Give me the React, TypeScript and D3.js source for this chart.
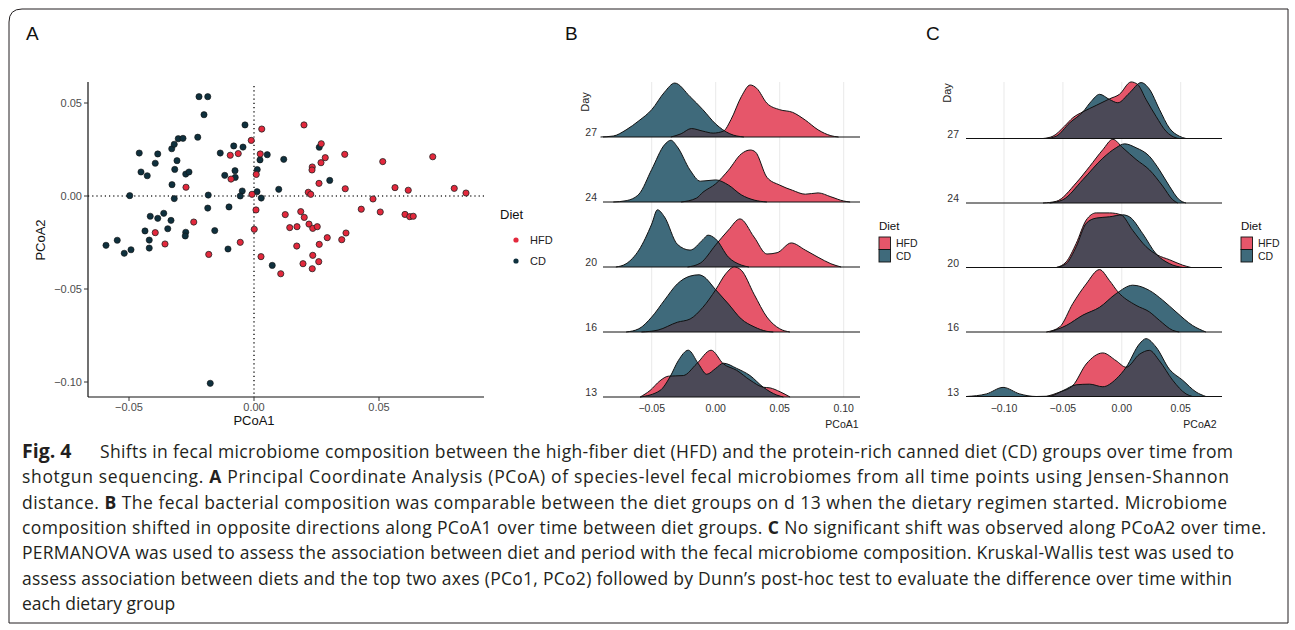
import React from 'react';
import * as d3 from 'd3';

type Pt = [number, number];

// ---------- Panel A: PCoA scores per sample ----------
const hfdPC1 = [0.0031, -0.0272, -0.0095, -0.0063, -0.0011, 0.0025, -0.0092, 0.0009, -0.0008, 0.0008, -0.0241, -0.0395, 0.0001, -0.0356, -0.0055,
  -0.0181, 0.0028, 0.02, 0.0269, 0.0285, 0.0268, 0.0233, 0.0232, 0.0363, 0.0515, 0.0715, 0.026, 0.0217, 0.0227, 0.0365, 0.0564, 0.0617, 0.0801, 0.0848,
  0.0476, 0.0125, 0.0187, 0.0201, 0.0429, 0.0505, 0.0604, 0.0623, 0.0637, 0.0143, 0.0172, 0.022, 0.0235, 0.0253, 0.0293, 0.0261, 0.0171, 0.0351, 0.0368,
  0.0235, 0.0196, 0.0259, 0.0233, 0.0107];
const hfdPC2 = [0.036, 0.0047, 0.0219, 0.0228, 0.0299, 0.0226, 0.0091, 0.0116, 0.0009, -0.0075, -0.014, -0.0197, -0.0179, -0.0258, -0.0249,
  -0.0314, -0.0326, 0.0382, 0.0281, 0.0206, 0.0179, 0.0156, 0.014, 0.0224, 0.0185, 0.0211, 0.0068, 0.002, 0.0009, 0.0039, 0.0045, 0.0031, 0.0041, 0.0016,
  -0.0016, -0.01, -0.0084, -0.0115, -0.0071, -0.0086, -0.0099, -0.0111, -0.0109, -0.017, -0.0165, -0.0151, -0.0174, -0.0165, -0.0224, -0.026, -0.0269, -0.0235, -0.0199,
  -0.0319, -0.0364, -0.0353, -0.0391, -0.0418];
const cdPC1 = [-0.022, -0.0185, -0.02, -0.0036, -0.0459, -0.0385, -0.0452, -0.0427, -0.0395, -0.0329, -0.0319, -0.0303, -0.0284, -0.0308, -0.0317,
  -0.0273, -0.026, -0.0328, -0.0319, -0.0225, -0.0135, -0.0081, -0.0044, 0.0053, 0.0024, -0.0076, -0.0117, -0.0075, 0.0013, -0.0047, -0.0055, 0.0012,
  0.0029, -0.0183, -0.0497, -0.0185, -0.01, -0.0415, -0.0385, -0.0361, -0.0332, -0.0436, -0.0345, -0.0273, -0.0275, -0.0157, -0.0419, -0.0547, -0.0592,
  -0.0519, -0.0492, -0.0419, -0.0104, -0.0175, 0.0119, 0.0261, 0.0303, 0.0099, 0.0073];
const cdPC2 = [0.0534, 0.0534, 0.0437, 0.0382, 0.0231, 0.0226, 0.0129, 0.0109, 0.0176, 0.0254, 0.0278, 0.0308, 0.031, 0.019, 0.0143,
  0.0118, 0.0129, 0.0061, -0.0014, 0.0316, 0.0231, 0.0269, 0.0263, 0.0222, 0.0194, 0.0136, 0.0111, 0.01, 0.0142, 0.0027, 0.0, 0.0023,
  -0.0011, 0.0005, 0.0002, -0.0065, -0.0059, -0.0109, -0.012, -0.0093, -0.0131, -0.0188, -0.0176, -0.0195, -0.0215, -0.0186, -0.0237, -0.0238, -0.0265,
  -0.0308, -0.0289, -0.028, -0.0285, -0.1007, 0.0197, 0.0262, 0.0084, 0.0036, -0.0373];
const pc1TicksA = [-0.05, 0, 0.05];
const pc2TicksA = [-0.1, -0.05, 0, 0.05];

// ---------- Ridges: [PCoA value, scaled density] ----------
const days = ['13', '16', '20', '24', '27'];

const b27Hfd: Pt[] = [[-0.035, 0], [-0.027, 0.05], [-0.019, 0.13], [-0.01, 0.09], [-0.002, 0.06], [0.006, 0.09], [0.012, 0.27], [0.02, 0.62], [0.027, 0.8], [0.032, 0.75], [0.04, 0.52], [0.05, 0.42], [0.06, 0.38], [0.07, 0.26], [0.08, 0.11], [0.09, 0.02], [0.096, 0]];
const b27Cd: Pt[] = [[-0.09, 0], [-0.08, 0.015], [-0.07, 0.11], [-0.06, 0.25], [-0.05, 0.42], [-0.04, 0.69], [-0.032, 0.83], [-0.02, 0.62], [-0.01, 0.42], [0, 0.2], [0.011, 0.05], [0.022, 0]];
const b24Hfd: Pt[] = [[-0.027, 0], [-0.015, 0.06], [-0.01, 0.15], [0, 0.28], [0.01, 0.49], [0.02, 0.74], [0.027, 0.8], [0.031, 0.77], [0.04, 0.38], [0.05, 0.26], [0.06, 0.18], [0.07, 0.12], [0.08, 0.14], [0.09, 0.08], [0.1, 0.015], [0.105, 0]];
const b24Cd: Pt[] = [[-0.08, 0], [-0.07, 0.02], [-0.06, 0.12], [-0.05, 0.5], [-0.04, 0.88], [-0.035, 0.95], [-0.03, 0.85], [-0.02, 0.49], [-0.012, 0.32], [0, 0.34], [0.01, 0.26], [0.02, 0.11], [0.03, 0.03], [0.04, 0]];
const b20Hfd: Pt[] = [[-0.022, 0], [-0.012, 0.06], [0, 0.34], [0.01, 0.57], [0.019, 0.74], [0.03, 0.46], [0.04, 0.2], [0.048, 0.22], [0.059, 0.37], [0.07, 0.26], [0.08, 0.15], [0.09, 0.05], [0.098, 0]];
const b20Cd: Pt[] = [[-0.078, 0], [-0.07, 0.05], [-0.06, 0.26], [-0.05, 0.66], [-0.0455, 0.88], [-0.04, 0.77], [-0.03, 0.35], [-0.02, 0.26], [-0.01, 0.42], [-0.006, 0.49], [0, 0.43], [0.01, 0.15], [0.02, 0.03], [0.026, 0]];
const b16Hfd: Pt[] = [[-0.058, 0], [-0.045, 0.03], [-0.03, 0.15], [-0.02, 0.2], [-0.01, 0.38], [0, 0.65], [0.008, 0.9], [0.0145, 1.0], [0.02, 0.95], [0.03, 0.58], [0.04, 0.23], [0.05, 0.05], [0.058, 0]];
const b16Cd: Pt[] = [[-0.07, 0], [-0.06, 0.05], [-0.05, 0.23], [-0.04, 0.49], [-0.03, 0.74], [-0.02, 0.86], [-0.013, 0.88], [-0.01, 0.86], [0, 0.65], [0.01, 0.43], [0.02, 0.2], [0.03, 0.08], [0.04, 0.01], [0.045, 0]];
const b13Hfd: Pt[] = [[-0.059, 0], [-0.0513, 0.1], [-0.0435, 0.25], [-0.037, 0.32], [-0.0253, 0.33], [-0.0149, 0.51], [-0.0036, 0.72], [0.006, 0.51], [0.0164, 0.41], [0.0268, 0.26], [0.0372, 0.15], [0.0424, 0.14], [0.0503, 0.08], [0.0581, 0]];
const b13Cd: Pt[] = [[-0.059, 0], [-0.0435, 0.1], [-0.0357, 0.31], [-0.0292, 0.56], [-0.0214, 0.72], [-0.0135, 0.51], [-0.007, 0.35], [0, 0.44], [0.006, 0.52], [0.0164, 0.44], [0.0268, 0.33], [0.0372, 0.15], [0.0477, 0.03], [0.0529, 0]];

const c27Hfd: Pt[] = [[-0.0669, 0], [-0.0584, 0.036], [-0.0486, 0.19], [-0.0415, 0.32], [-0.033, 0.41], [-0.0217, 0.51], [-0.0104, 0.61], [-0.002, 0.68], [0.0079, 0.87], [0.0135, 0.83], [0.0206, 0.6], [0.0291, 0.34], [0.0376, 0.11], [0.046, 0.01], [0.0488, 0]];
const c27Cd: Pt[] = [[-0.0641, 0], [-0.0556, 0.036], [-0.0443, 0.24], [-0.033, 0.41], [-0.026, 0.57], [-0.0189, 0.68], [-0.0104, 0.6], [-0.0034, 0.55], [0.0065, 0.7], [0.0164, 0.86], [0.0234, 0.76], [0.0319, 0.45], [0.0404, 0.16], [0.0488, 0.036], [0.0545, 0]];
const c24Hfd: Pt[] = [[-0.0669, 0], [-0.0556, 0.026], [-0.0387, 0.31], [-0.0274, 0.56], [-0.0161, 0.82], [-0.0076, 0.98], [0.0008, 0.85], [0.0121, 0.67], [0.0234, 0.51], [0.0347, 0.26], [0.0432, 0.05], [0.0475, 0]];
const c24Cd: Pt[] = [[-0.0613, 0], [-0.05, 0.05], [-0.033, 0.36], [-0.0161, 0.69], [-0.0048, 0.85], [0.0023, 0.91], [0.0121, 0.85], [0.0234, 0.72], [0.0319, 0.51], [0.0404, 0.26], [0.0488, 0.05], [0.0545, 0]];
const c20Hfd: Pt[] = [[-0.0556, 0], [-0.0472, 0.087], [-0.0387, 0.37], [-0.0302, 0.73], [-0.0217, 0.84], [-0.0104, 0.84], [-0.0006, 0.81], [0.0093, 0.57], [0.0206, 0.32], [0.0305, 0.19], [0.0404, 0.12], [0.0517, 0.036], [0.0588, 0]];
const c20Cd: Pt[] = [[-0.0556, 0], [-0.0472, 0.06], [-0.0387, 0.32], [-0.0302, 0.68], [-0.0217, 0.76], [-0.0104, 0.78], [0.0008, 0.81], [0.0065, 0.78], [0.0178, 0.52], [0.0291, 0.21], [0.0404, 0.06], [0.0517, 0]];
const c16Hfd: Pt[] = [[-0.0641, 0], [-0.0528, 0.077], [-0.0415, 0.44], [-0.0302, 0.74], [-0.0189, 0.96], [-0.0104, 0.79], [-0.0034, 0.62], [0.0121, 0.41], [0.0234, 0.31], [0.0319, 0.18], [0.0432, 0.026], [0.0488, 0]];
const c16Cd: Pt[] = [[-0.0613, 0], [-0.0472, 0.1], [-0.033, 0.26], [-0.0189, 0.38], [-0.0048, 0.59], [0.0093, 0.72], [0.0234, 0.64], [0.0347, 0.49], [0.046, 0.31], [0.0601, 0.1], [0.0714, 0]];
const c13Hfd: Pt[] = [[-0.0641, 0], [-0.0528, 0.067], [-0.0415, 0.17], [-0.0302, 0.5], [-0.0161, 0.67], [-0.0048, 0.55], [0.0037, 0.45], [0.015, 0.65], [0.0234, 0.71], [0.0319, 0.55], [0.0432, 0.25], [0.0545, 0.04], [0.0601, 0]];
const c13Cd: Pt[] = [[-0.1319, 0], [-0.1149, 0.04], [-0.1008, 0.14], [-0.0867, 0.04], [-0.0726, 0], [-0.0613, 0.005], [-0.05, 0.09], [-0.0387, 0.18], [-0.0274, 0.19], [-0.0161, 0.15], [-0.0048, 0.27], [0.0037, 0.45], [0.015, 0.81], [0.0206, 0.89], [0.0291, 0.76], [0.0404, 0.42], [0.0517, 0.25], [0.063, 0.07], [0.0714, 0]];

const ticksB = [-0.05, 0, 0.05, 0.1];
const ticksC = [-0.1, -0.05, 0, 0.05];

const diets = ['HFD', 'CD'];

// caption lines
const cap1 = 'Shifts in fecal microbiome composition between the high-fiber diet (HFD) and the protein-rich canned diet (CD) groups over time from';
const cap2 = ['shotgun sequencing. ', 'A', ' Principal Coordinate Analysis (PCoA) of species-level fecal microbiomes from all time points using Jensen-Shannon'];
const cap3 = ['distance. ', 'B', ' The fecal bacterial composition was comparable between the diet groups on d 13 when the dietary regimen started. Microbiome'];
const cap4 = ['composition shifted in opposite directions along PCoA1 over time between diet groups. ', 'C', ' No significant shift was observed along PCoA2 over time.'];
const cap5 = 'PERMANOVA was used to assess the association between diet and period with the fecal microbiome composition. Kruskal-Wallis test was used to';
const cap6 = 'assess association between diets and the top two axes (PCo1, PCo2) followed by Dunn\u2019s post-hoc test to evaluate the difference over time within';
const cap7 = 'each dietary group';

const RED_PT = '#E3283C';
const DARK_PT = '#0F303D';
const RED = '#E6566A';
const TEAL = '#3F6A7B';
const OVER = '#4B4957';
const FONT = 'Liberation Sans, Arial, sans-serif';

const fmt = (v: number) => d3.format('.2f')(v).replace('-', '\u2212');

function RidgePanel({ id, xs, rows, baseTop, baseBottom, ticks, extent, title, titleX, dayX, dayY, legendX }: any) {
  const ys = d3.scalePoint<string>().domain(days).range([baseBottom, baseTop]);
  const rowH = 65;
  return (
    <g>
      {ticks.map((t: number) => (
        <line key={'g' + t} x1={xs(t)} x2={xs(t)} y1={82} y2={baseBottom} stroke="#E6E6E6" strokeWidth={0.9} />
      ))}
      {[...days].reverse().map((day: string) => {
        const base = ys(day) as number;
        const [hfd, cd] = rows[days.indexOf(day)];
        const area = d3.area<Pt>().x(d => xs(d[0])).y0(base).y1(d => base - d[1] * rowH).curve(d3.curveMonotoneX);
        const line = d3.line<Pt>().x(d => xs(d[0])).y(d => base - d[1] * rowH).curve(d3.curveMonotoneX);
        const cid = `clip-${id}-${day}`;
        return (
          <g key={day}>
            <clipPath id={cid}><path d={area(cd) || ''} /></clipPath>
            <path d={area(hfd) || ''} fill={RED} />
            <path d={area(cd) || ''} fill={TEAL} />
            <path d={area(hfd) || ''} fill={OVER} clipPath={`url(#${cid})`} />
            <path d={line(hfd) || ''} fill="none" stroke="#111" strokeWidth={1} />
            <path d={line(cd) || ''} fill="none" stroke="#111" strokeWidth={1} />
            <line x1={extent[0]} x2={extent[1]} y1={base} y2={base} stroke="#111" strokeWidth={1} />
            <text x={dayX} y={base - 1} textAnchor="end" fontSize={10.5} fill="#333">{day}</text>
          </g>
        );
      })}
      {ticks.map((t: number) => (
        <text key={'t' + t} x={xs(t)} y={412} textAnchor="middle" fontSize={10.5} fill="#333">{fmt(t)}</text>
      ))}
      <text x={titleX} y={428} textAnchor="middle" fontSize={10.5} fill="#222">{title}</text>
      <text transform={`translate(${dayX - 8},${dayY}) rotate(-90)`} textAnchor="middle" fontSize={11} fill="#222">Day</text>
      <text x={legendX} y={230} fontSize={11.5} fill="#111">Diet</text>
      {diets.map((d, i) => (
        <g key={d}>
          <rect x={legendX} y={237 + i * 12.5} width={11.5} height={12.5} fill={i === 0 ? RED : TEAL} stroke="#111" strokeWidth={0.9} />
          <text x={legendX + 17} y={247 + i * 12.5} fontSize={10.5} fill="#222">{d}</text>
        </g>
      ))}
    </g>
  );
}

export default function App() {
  const xA = d3.scaleLinear().domain([-0.05, 0.05]).range([129, 379]);
  const yA = d3.scaleLinear().domain([-0.1, 0.05]).range([382, 103]);
  const xB = d3.scaleLinear().domain([-0.05, 0.1]).range([651.7, 843.7]);
  const xC = d3.scaleLinear().domain([-0.1, 0.05]).range([1004, 1180.7]);

  const rowsB = [[b13Hfd, b13Cd], [b16Hfd, b16Cd], [b20Hfd, b20Cd], [b24Hfd, b24Cd], [b27Hfd, b27Cd]];
  const rowsC = [[c13Hfd, c13Cd], [c16Hfd, c16Cd], [c20Hfd, c20Cd], [c24Hfd, c24Cd], [c27Hfd, c27Cd]];

  const capStyle = { fontFamily: 'Open Sans, Noto Sans, sans-serif', fontSize: 17.5, fill: '#231F20' } as any;
  const capY = (i: number) => 458 + i * 25.3;

  return (
    <svg width={1295} height={630} style={{ position: 'absolute', left: 0, top: 0, background: '#fff' }} fontFamily={FONT}>
      <rect width={1295} height={630} fill="#fff" />
      <path d="M9,623 V22 Q9,9 22,9 H1288 V623 Z" fill="none" stroke="#231F20" strokeWidth={1} />
      {['A', 'B', 'C'].map((l, i) => (
        <text key={l} x={[26, 565, 926][i]} y={40} fontSize={19} fill="#111">{l}</text>
      ))}

      {/* Panel A */}
      <line x1={xA(0)} x2={xA(0)} y1={86} y2={397} stroke="#333" strokeWidth={1.6} strokeDasharray="1.2,3" />
      <line x1={88} x2={484} y1={yA(0)} y2={yA(0)} stroke="#333" strokeWidth={1.6} strokeDasharray="1.2,3" />
      {cdPC1.map((v, i) => (
        <circle key={'c' + i} cx={xA(v)} cy={yA(cdPC2[i])} r={3.1} fill={DARK_PT} stroke="#111" strokeWidth={0.6} />
      ))}
      {hfdPC1.map((v, i) => (
        <circle key={'h' + i} cx={xA(v)} cy={yA(hfdPC2[i])} r={3.1} fill={RED_PT} stroke="#222" strokeWidth={0.8} />
      ))}
      <line x1={88} x2={88} y1={82} y2={397} stroke="#111" strokeWidth={1.2} />
      <line x1={88} x2={484} y1={397} y2={397} stroke="#111" strokeWidth={1.2} />
      {pc2TicksA.map(t => (
        <g key={'ya' + t}>
          <line x1={84} x2={88} y1={yA(t)} y2={yA(t)} stroke="#333" />
          <text x={82} y={yA(t) + 4} textAnchor="end" fontSize={11} fill="#4D4D4D">{fmt(t)}</text>
        </g>
      ))}
      {pc1TicksA.map(t => (
        <g key={'xa' + t}>
          <line x1={xA(t)} x2={xA(t)} y1={397} y2={401} stroke="#333" />
          <text x={xA(t)} y={411} textAnchor="middle" fontSize={11} fill="#4D4D4D">{fmt(t)}</text>
        </g>
      ))}
      <text x={254} y={425} textAnchor="middle" fontSize={13} fill="#111">PCoA1</text>
      <text transform="translate(45,240) rotate(-90)" textAnchor="middle" fontSize={13} fill="#111">PCoA2</text>
      <text x={500} y={219} fontSize={13} fill="#111">Diet</text>
      {diets.map((d, i) => (
        <g key={d}>
          <circle cx={516} cy={240 + i * 21} r={2.6} fill={i === 0 ? RED_PT : DARK_PT} />
          <text x={530} y={244 + i * 21} fontSize={11} fill="#222">{d}</text>
        </g>
      ))}

      {/* Panel B */}
      <RidgePanel id="B" xs={xB} rows={rowsB} baseTop={137} baseBottom={397} ticks={ticksB} extent={[603, 860]}
        title="PCoA1" titleX={842} dayX={597} dayY={102} legendX={879} />
      {/* Panel C */}
      <RidgePanel id="C" xs={xC} rows={rowsC} baseTop={138.5} baseBottom={396.5} ticks={ticksC} extent={[966, 1222]}
        title="PCoA2" titleX={1200} dayX={959} dayY={93} legendX={1241} />

      {/* caption */}
      <text x={22} y={capY(0)} style={{ ...capStyle, fontWeight: 700, fontSize: 19.5 }}>Fig. 4</text>
      <text x={100} y={capY(0)} style={capStyle} textLength={1133} lengthAdjust="spacing">{cap1}</text>
      {[cap2, cap3, cap4].map((c, i) => (
        <text key={i} x={22} y={capY(i + 1)} style={capStyle} textLength={[1207, 1205, 1244][i]} lengthAdjust="spacing">
          <tspan>{c[0]}</tspan><tspan fontWeight={700}>{c[1]}</tspan><tspan>{c[2]}</tspan>
        </text>
      ))}
      <text x={22} y={capY(4)} style={capStyle} textLength={1212} lengthAdjust="spacing">{cap5}</text>
      <text x={22} y={capY(5)} style={capStyle} textLength={1210} lengthAdjust="spacing">{cap6}</text>
      <text x={22} y={capY(6)} style={capStyle}>{cap7}</text>
    </svg>
  );
}
